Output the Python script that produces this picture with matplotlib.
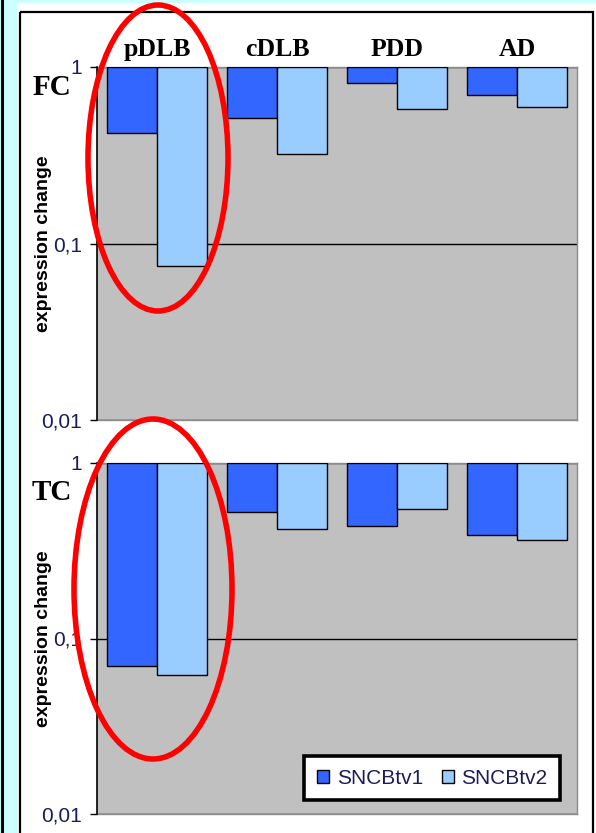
import matplotlib
matplotlib.use('Agg')
import matplotlib.pyplot as plt
import numpy as np
from matplotlib.patches import Ellipse, Rectangle

# --- DATA (log scale, fold change) ---
categories = ['pDLB', 'cDLB', 'PDD', 'AD']
series_names = ['SNCBtv1', 'SNCBtv2']

fc_tv1 = [0.42, 0.515, 0.81, 0.69]
fc_tv2 = [0.075, 0.32, 0.58, 0.595]

tc_tv1 = [0.070, 0.527, 0.438, 0.39]
tc_tv2 = [0.062, 0.42, 0.548, 0.365]

panel_labels = ['FC', 'TC']
ytick_values = [0.01, 0.1, 1]
ytick_labels = ['0,01', '0,1', '1']

# --- STYLE ---
color_tv1 = '#3366ff'
color_tv2 = '#99ccff'
plot_bg = '#c0c0c0'
tick_color = '#1c1c5c'
serif = ['Liberation Serif', 'DejaVu Serif']
sans = ['Liberation Sans', 'DejaVu Sans']

W, H = 596, 833
fig = plt.figure(figsize=(W / 100, H / 100), dpi=100)
fig.patch.set_facecolor('#ccffff')

# background panel (pixel coordinates)
bg = fig.add_axes([0, 0, 1, 1], zorder=-1)
bg.set_xlim(0, W)
bg.set_ylim(H, 0)
bg.axis('off')
bg.add_patch(Rectangle((17, 3), W - 17, H, facecolor='white', edgecolor='none'))
bg.add_patch(Rectangle((19.5, 11.5), 573, H, facecolor='none', edgecolor='black', lw=1.6))
bg.plot([1.5, 1.5], [0, H], color='black', lw=2.2)


def draw_panel(rect, v1, v2, show_categories):
    ax = fig.add_axes(rect)
    ax.set_facecolor(plot_bg)
    x = np.arange(len(categories))
    w = 50 / 120
    ax.bar(x - w / 2, np.array(v1) - 1, bottom=1, width=w, color=color_tv1,
           edgecolor='black', linewidth=1.0, label=series_names[0], zorder=3)
    ax.bar(x + w / 2, np.array(v2) - 1, bottom=1, width=w, color=color_tv2,
           edgecolor='black', linewidth=1.0, label=series_names[1], zorder=3)
    ax.set_yscale('log')
    ax.set_ylim(0.01, 1)
    ax.set_xlim(-0.5, len(categories) - 0.5)
    ax.set_yticks(ytick_values)
    ax.set_yticklabels(ytick_labels, fontfamily=sans, fontsize=15, color=tick_color)
    ax.yaxis.set_minor_locator(matplotlib.ticker.NullLocator())
    ax.tick_params(axis='y', length=5, width=1, pad=6, color='black')
    ax.grid(axis='y', which='major', color='black', linewidth=1.0, zorder=1)
    for side in ['top', 'right', 'bottom']:
        ax.spines[side].set_color('#8c8c8c')
        ax.spines[side].set_linewidth(1.0)
    ax.spines['left'].set_color('black')
    ax.spines['left'].set_linewidth(1.2)
    ax.spines['left'].set_zorder(4)
    if show_categories:
        ax.xaxis.tick_top()
        ax.set_xticks(x)
        ax.set_xticklabels(categories, fontfamily=serif, fontsize=18.5, fontweight='bold')
        ax.tick_params(axis='x', length=0, pad=4)
    else:
        ax.set_xticks([])
    ax.set_ylabel('expression change', fontfamily=sans, fontsize=14, fontweight='bold')
    ax.yaxis.set_label_coords(-45 / 480, 0.5)
    return ax


ax_fc = draw_panel([97 / W, 1 - 420 / H, 480 / W, 353 / H], fc_tv1, fc_tv2, True)
ax_tc = draw_panel([97 / W, 1 - 814 / H, 480 / W, 351 / H], tc_tv1, tc_tv2, False)

leg = ax_tc.legend(loc='lower right', bbox_to_anchor=(1 - 17 / 480, 14 / 351),
                   borderaxespad=0, ncol=2, fancybox=False, framealpha=1,
                   handlelength=0.6, handleheight=0.6, handletextpad=0.35,
                   columnspacing=0.9, borderpad=0.6,
                   prop={'family': sans, 'size': 15})
leg.get_frame().set_edgecolor('black')
leg.get_frame().set_linewidth(2.6)
for t in leg.get_texts():
    t.set_color(tick_color)

# overlay: panel labels and red ellipses (pixel coordinates)
ov = fig.add_axes([0, 0, 1, 1], zorder=10)
ov.set_xlim(0, W)
ov.set_ylim(H, 0)
ov.axis('off')
ov.patch.set_alpha(0)
ov.text(52, 87, panel_labels[0], fontfamily=serif, fontsize=21, fontweight='bold',
        ha='center', va='center')
ov.text(52, 492, panel_labels[1], fontfamily=serif, fontsize=21, fontweight='bold',
        ha='center', va='center')
ov.add_patch(Ellipse((158, 158), 140, 306, facecolor='none', edgecolor='#ff0000', lw=4.0))
ov.add_patch(Ellipse((153, 589), 158, 340, facecolor='none', edgecolor='#ff0000', lw=4.0))

fig.savefig('out.png', dpi=100)
